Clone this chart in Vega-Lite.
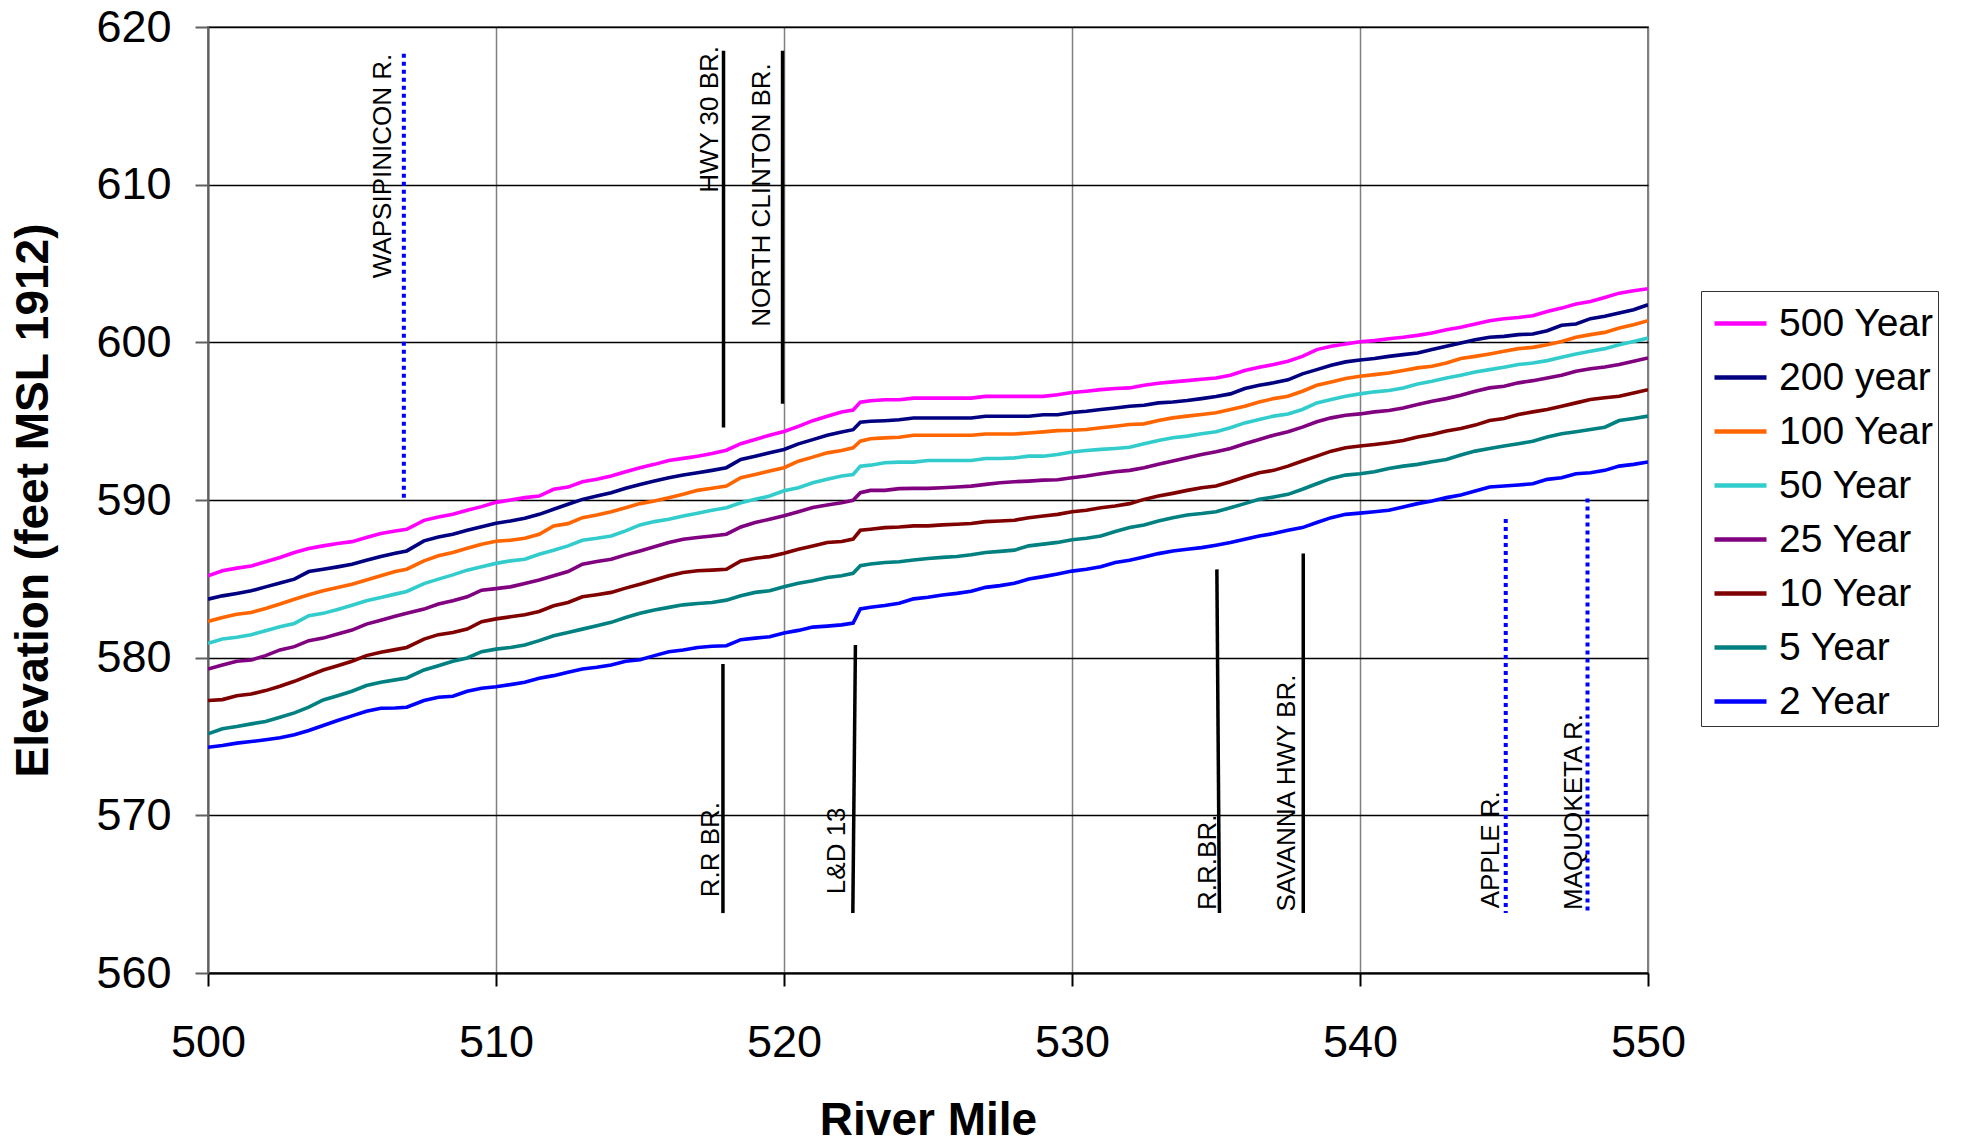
{
  "$schema": "https://vega.github.io/schema/vega-lite/v6.json",
  "width": 1440,
  "height": 946,
  "autosize": {"type": "none"},
  "padding": {"left": 208, "top": 27, "right": 313, "bottom": 170},
  "background": "white",
  "config": {
    "font": "Liberation Sans",
    "view": {"stroke": "#808080", "strokeWidth": 2},
    "axis": {
      "labelFont": "Liberation Sans", "labelFontSize": 45, "labelColor": "#000", "labelFlush": false,
      "titleFont": "Liberation Sans", "titleFontWeight": "bold", "titleFontSize": 46, "titleColor": "#000",
      "tickSize": 13, "tickColor": "#000", "tickWidth": 2,
      "domainColor": "#000", "domainWidth": 2,
      "gridColor": "#000", "gridWidth": 1.3
    }
  },
  "datasets": {
    "profiles": [
      {"mile":500,"500 Year":585.19,"200 year":583.71,"100 Year":582.30,"50 Year":580.91,"25 Year":579.28,"10 Year":577.28,"5 Year":575.17,"2 Year":574.32},
      {"mile":500.5,"500 Year":585.51,"200 year":583.92,"100 Year":582.55,"50 Year":581.18,"25 Year":579.54,"10 Year":577.34,"5 Year":575.49,"2 Year":574.43},
      {"mile":501,"500 Year":585.68,"200 year":584.07,"100 Year":582.76,"50 Year":581.29,"25 Year":579.77,"10 Year":577.59,"5 Year":575.63,"2 Year":574.58},
      {"mile":501.5,"500 Year":585.82,"200 year":584.24,"100 Year":582.87,"50 Year":581.46,"25 Year":579.85,"10 Year":577.70,"5 Year":575.80,"2 Year":574.68},
      {"mile":502,"500 Year":586.08,"200 year":584.49,"100 Year":583.12,"50 Year":581.71,"25 Year":580.13,"10 Year":577.91,"5 Year":575.95,"2 Year":574.79},
      {"mile":502.5,"500 Year":586.35,"200 year":584.73,"100 Year":583.40,"50 Year":581.96,"25 Year":580.49,"10 Year":578.19,"5 Year":576.22,"2 Year":574.92},
      {"mile":503,"500 Year":586.67,"200 year":584.98,"100 Year":583.71,"50 Year":582.17,"25 Year":580.70,"10 Year":578.50,"5 Year":576.50,"2 Year":575.11},
      {"mile":503.5,"500 Year":586.92,"200 year":585.46,"100 Year":583.99,"50 Year":582.66,"25 Year":581.08,"10 Year":578.86,"5 Year":576.86,"2 Year":575.38},
      {"mile":504,"500 Year":587.09,"200 year":585.61,"100 Year":584.24,"50 Year":582.81,"25 Year":581.24,"10 Year":579.22,"5 Year":577.32,"2 Year":575.70},
      {"mile":504.5,"500 Year":587.24,"200 year":585.76,"100 Year":584.45,"50 Year":583.06,"25 Year":581.50,"10 Year":579.49,"5 Year":577.59,"2 Year":576.01},
      {"mile":505,"500 Year":587.36,"200 year":585.93,"100 Year":584.66,"50 Year":583.33,"25 Year":581.75,"10 Year":579.77,"5 Year":577.87,"2 Year":576.31},
      {"mile":505.5,"500 Year":587.62,"200 year":586.18,"100 Year":584.92,"50 Year":583.61,"25 Year":582.13,"10 Year":580.13,"5 Year":578.23,"2 Year":576.60},
      {"mile":506,"500 Year":587.87,"200 year":586.41,"100 Year":585.19,"50 Year":583.82,"25 Year":582.38,"10 Year":580.34,"5 Year":578.44,"2 Year":576.79},
      {"mile":506.5,"500 Year":588.04,"200 year":586.62,"100 Year":585.46,"50 Year":584.03,"25 Year":582.62,"10 Year":580.51,"5 Year":578.59,"2 Year":576.81},
      {"mile":506.9,"500 Year":588.14,"200 year":586.77,"100 Year":585.61,"50 Year":584.20,"25 Year":582.81,"10 Year":580.65,"5 Year":578.71,"2 Year":576.86},
      {"mile":507.5,"500 Year":588.71,"200 year":587.41,"100 Year":586.14,"50 Year":584.70,"25 Year":583.08,"10 Year":581.18,"5 Year":579.22,"2 Year":577.28},
      {"mile":508,"500 Year":588.92,"200 year":587.66,"100 Year":586.46,"50 Year":584.98,"25 Year":583.40,"10 Year":581.46,"5 Year":579.49,"2 Year":577.49},
      {"mile":508.5,"500 Year":589.09,"200 year":587.83,"100 Year":586.67,"50 Year":585.25,"25 Year":583.61,"10 Year":581.60,"5 Year":579.77,"2 Year":577.55},
      {"mile":509,"500 Year":589.35,"200 year":588.08,"100 Year":586.94,"50 Year":585.55,"25 Year":583.86,"10 Year":581.81,"5 Year":579.98,"2 Year":577.87},
      {"mile":509.5,"500 Year":589.58,"200 year":588.31,"100 Year":587.19,"50 Year":585.76,"25 Year":584.28,"10 Year":582.28,"5 Year":580.38,"2 Year":578.06},
      {"mile":510,"500 Year":589.85,"200 year":588.53,"100 Year":587.38,"50 Year":585.98,"25 Year":584.38,"10 Year":582.46,"5 Year":580.54,"2 Year":578.15},
      {"mile":510.5,"500 Year":590.00,"200 year":588.67,"100 Year":587.45,"50 Year":586.14,"25 Year":584.49,"10 Year":582.59,"5 Year":580.65,"2 Year":578.29},
      {"mile":511,"500 Year":590.15,"200 year":588.84,"100 Year":587.57,"50 Year":586.24,"25 Year":584.70,"10 Year":582.72,"5 Year":580.80,"2 Year":578.44},
      {"mile":511.5,"500 Year":590.25,"200 year":589.09,"100 Year":587.83,"50 Year":586.56,"25 Year":584.92,"10 Year":582.93,"5 Year":581.08,"2 Year":578.69},
      {"mile":512,"500 Year":590.68,"200 year":589.41,"100 Year":588.35,"50 Year":586.81,"25 Year":585.19,"10 Year":583.29,"5 Year":581.39,"2 Year":578.86},
      {"mile":512.5,"500 Year":590.82,"200 year":589.73,"100 Year":588.50,"50 Year":587.09,"25 Year":585.46,"10 Year":583.50,"5 Year":581.60,"2 Year":579.07},
      {"mile":513,"500 Year":591.16,"200 year":590.04,"100 Year":588.88,"50 Year":587.45,"25 Year":585.93,"10 Year":583.86,"5 Year":581.81,"2 Year":579.28},
      {"mile":513.5,"500 Year":591.31,"200 year":590.25,"100 Year":589.05,"50 Year":587.57,"25 Year":586.10,"10 Year":583.99,"5 Year":582.03,"2 Year":579.39},
      {"mile":514,"500 Year":591.52,"200 year":590.46,"100 Year":589.26,"50 Year":587.72,"25 Year":586.24,"10 Year":584.14,"5 Year":582.24,"2 Year":579.54},
      {"mile":514.5,"500 Year":591.79,"200 year":590.74,"100 Year":589.51,"50 Year":588.04,"25 Year":586.52,"10 Year":584.41,"5 Year":582.55,"2 Year":579.77},
      {"mile":515,"500 Year":592.05,"200 year":590.99,"100 Year":589.77,"50 Year":588.42,"25 Year":586.77,"10 Year":584.66,"5 Year":582.81,"2 Year":579.87},
      {"mile":515.5,"500 Year":592.26,"200 year":591.20,"100 Year":589.94,"50 Year":588.63,"25 Year":587.03,"10 Year":584.92,"5 Year":583.02,"2 Year":580.13},
      {"mile":516,"500 Year":592.51,"200 year":591.41,"100 Year":590.15,"50 Year":588.78,"25 Year":587.30,"10 Year":585.19,"5 Year":583.19,"2 Year":580.38},
      {"mile":516.5,"500 Year":592.64,"200 year":591.58,"100 Year":590.36,"50 Year":588.99,"25 Year":587.51,"10 Year":585.40,"5 Year":583.35,"2 Year":580.49},
      {"mile":517,"500 Year":592.78,"200 year":591.73,"100 Year":590.61,"50 Year":589.16,"25 Year":587.62,"10 Year":585.51,"5 Year":583.44,"2 Year":580.65},
      {"mile":517.5,"500 Year":592.95,"200 year":591.88,"100 Year":590.74,"50 Year":589.35,"25 Year":587.72,"10 Year":585.55,"5 Year":583.50,"2 Year":580.72},
      {"mile":518,"500 Year":593.16,"200 year":592.05,"100 Year":590.89,"50 Year":589.51,"25 Year":587.83,"10 Year":585.61,"5 Year":583.65,"2 Year":580.76},
      {"mile":518.5,"500 Year":593.57,"200 year":592.57,"100 Year":591.41,"50 Year":589.83,"25 Year":588.29,"10 Year":586.14,"5 Year":583.92,"2 Year":581.14},
      {"mile":519,"500 Year":593.84,"200 year":592.78,"100 Year":591.62,"50 Year":590.04,"25 Year":588.57,"10 Year":586.31,"5 Year":584.14,"2 Year":581.24},
      {"mile":519.5,"500 Year":594.11,"200 year":593.00,"100 Year":591.84,"50 Year":590.25,"25 Year":588.78,"10 Year":586.41,"5 Year":584.24,"2 Year":581.33},
      {"mile":520,"500 Year":594.35,"200 year":593.20,"100 Year":592.05,"50 Year":590.59,"25 Year":589.00,"10 Year":586.62,"5 Year":584.50,"2 Year":581.57},
      {"mile":520.5,"500 Year":594.67,"200 year":593.56,"100 Year":592.46,"50 Year":590.78,"25 Year":589.26,"10 Year":586.88,"5 Year":584.72,"2 Year":581.73},
      {"mile":521,"500 Year":595.03,"200 year":593.83,"100 Year":592.72,"50 Year":591.09,"25 Year":589.52,"10 Year":587.09,"5 Year":584.88,"2 Year":581.94},
      {"mile":521.5,"500 Year":595.31,"200 year":594.11,"100 Year":592.99,"50 Year":591.31,"25 Year":589.68,"10 Year":587.31,"5 Year":585.09,"2 Year":582.00},
      {"mile":522,"500 Year":595.58,"200 year":594.32,"100 Year":593.14,"50 Year":591.52,"25 Year":589.83,"10 Year":587.37,"5 Year":585.20,"2 Year":582.08},
      {"mile":522.4,"500 Year":595.71,"200 year":594.46,"100 Year":593.31,"50 Year":591.62,"25 Year":589.98,"10 Year":587.52,"5 Year":585.35,"2 Year":582.19},
      {"mile":522.65,"500 Year":596.21,"200 year":594.93,"100 Year":593.73,"50 Year":592.15,"25 Year":590.46,"10 Year":588.08,"5 Year":585.83,"2 Year":583.09},
      {"mile":523,"500 Year":596.29,"200 year":594.99,"100 Year":593.89,"50 Year":592.21,"25 Year":590.61,"10 Year":588.15,"5 Year":585.94,"2 Year":583.20},
      {"mile":523.5,"500 Year":596.36,"200 year":595.03,"100 Year":593.94,"50 Year":592.36,"25 Year":590.61,"10 Year":588.25,"5 Year":586.04,"2 Year":583.31},
      {"mile":524,"500 Year":596.36,"200 year":595.09,"100 Year":593.98,"50 Year":592.40,"25 Year":590.72,"10 Year":588.29,"5 Year":586.08,"2 Year":583.45},
      {"mile":524.5,"500 Year":596.46,"200 year":595.20,"100 Year":594.11,"50 Year":592.40,"25 Year":590.74,"10 Year":588.36,"5 Year":586.19,"2 Year":583.73},
      {"mile":525,"500 Year":596.46,"200 year":595.20,"100 Year":594.11,"50 Year":592.51,"25 Year":590.74,"10 Year":588.36,"5 Year":586.29,"2 Year":583.83},
      {"mile":525.5,"500 Year":596.46,"200 year":595.20,"100 Year":594.11,"50 Year":592.51,"25 Year":590.78,"10 Year":588.42,"5 Year":586.36,"2 Year":583.98},
      {"mile":526,"500 Year":596.46,"200 year":595.20,"100 Year":594.11,"50 Year":592.51,"25 Year":590.82,"10 Year":588.46,"5 Year":586.42,"2 Year":584.08},
      {"mile":526.5,"500 Year":596.46,"200 year":595.20,"100 Year":594.11,"50 Year":592.51,"25 Year":590.88,"10 Year":588.51,"5 Year":586.53,"2 Year":584.21},
      {"mile":527,"500 Year":596.57,"200 year":595.31,"100 Year":594.19,"50 Year":592.63,"25 Year":590.99,"10 Year":588.63,"5 Year":586.67,"2 Year":584.46},
      {"mile":527.5,"500 Year":596.57,"200 year":595.31,"100 Year":594.19,"50 Year":592.63,"25 Year":591.09,"10 Year":588.67,"5 Year":586.74,"2 Year":584.57},
      {"mile":528,"500 Year":596.57,"200 year":595.31,"100 Year":594.19,"50 Year":592.67,"25 Year":591.16,"10 Year":588.72,"5 Year":586.82,"2 Year":584.72},
      {"mile":528.5,"500 Year":596.57,"200 year":595.31,"100 Year":594.25,"50 Year":592.78,"25 Year":591.20,"10 Year":588.88,"5 Year":587.09,"2 Year":584.99},
      {"mile":529,"500 Year":596.57,"200 year":595.41,"100 Year":594.32,"50 Year":592.78,"25 Year":591.26,"10 Year":588.99,"5 Year":587.20,"2 Year":585.14},
      {"mile":529.5,"500 Year":596.67,"200 year":595.41,"100 Year":594.40,"50 Year":592.88,"25 Year":591.28,"10 Year":589.09,"5 Year":587.31,"2 Year":585.31},
      {"mile":530,"500 Year":596.82,"200 year":595.55,"100 Year":594.42,"50 Year":593.05,"25 Year":591.41,"10 Year":589.25,"5 Year":587.48,"2 Year":585.49},
      {"mile":530.5,"500 Year":596.90,"200 year":595.63,"100 Year":594.47,"50 Year":593.14,"25 Year":591.52,"10 Year":589.35,"5 Year":587.57,"2 Year":585.61},
      {"mile":531,"500 Year":597.00,"200 year":595.74,"100 Year":594.58,"50 Year":593.21,"25 Year":591.67,"10 Year":589.51,"5 Year":587.72,"2 Year":585.76},
      {"mile":531.5,"500 Year":597.07,"200 year":595.84,"100 Year":594.68,"50 Year":593.27,"25 Year":591.79,"10 Year":589.62,"5 Year":588.00,"2 Year":586.03},
      {"mile":532,"500 Year":597.11,"200 year":595.95,"100 Year":594.79,"50 Year":593.35,"25 Year":591.88,"10 Year":589.77,"5 Year":588.25,"2 Year":586.18},
      {"mile":532.5,"500 Year":597.28,"200 year":596.01,"100 Year":594.83,"50 Year":593.57,"25 Year":592.05,"10 Year":590.04,"5 Year":588.42,"2 Year":586.39},
      {"mile":533,"500 Year":597.41,"200 year":596.16,"100 Year":595.04,"50 Year":593.78,"25 Year":592.26,"10 Year":590.25,"5 Year":588.67,"2 Year":586.60},
      {"mile":533.5,"500 Year":597.49,"200 year":596.22,"100 Year":595.21,"50 Year":593.95,"25 Year":592.47,"10 Year":590.42,"5 Year":588.88,"2 Year":586.77},
      {"mile":534,"500 Year":597.57,"200 year":596.31,"100 Year":595.32,"50 Year":594.05,"25 Year":592.68,"10 Year":590.61,"5 Year":589.05,"2 Year":586.88},
      {"mile":534.5,"500 Year":597.66,"200 year":596.43,"100 Year":595.42,"50 Year":594.20,"25 Year":592.89,"10 Year":590.78,"5 Year":589.14,"2 Year":586.98},
      {"mile":535,"500 Year":597.74,"200 year":596.56,"100 Year":595.53,"50 Year":594.33,"25 Year":593.06,"10 Year":590.89,"5 Year":589.26,"2 Year":587.13},
      {"mile":535.5,"500 Year":597.91,"200 year":596.73,"100 Year":595.74,"50 Year":594.58,"25 Year":593.27,"10 Year":591.16,"5 Year":589.51,"2 Year":587.30},
      {"mile":536,"500 Year":598.21,"200 year":597.07,"100 Year":595.95,"50 Year":594.89,"25 Year":593.57,"10 Year":591.46,"5 Year":589.77,"2 Year":587.51},
      {"mile":536.5,"500 Year":598.42,"200 year":597.28,"100 Year":596.22,"50 Year":595.11,"25 Year":593.84,"10 Year":591.73,"5 Year":590.04,"2 Year":587.72},
      {"mile":537,"500 Year":598.59,"200 year":597.43,"100 Year":596.43,"50 Year":595.32,"25 Year":594.11,"10 Year":591.88,"5 Year":590.19,"2 Year":587.87},
      {"mile":537.5,"500 Year":598.80,"200 year":597.62,"100 Year":596.58,"50 Year":595.46,"25 Year":594.33,"10 Year":592.15,"5 Year":590.36,"2 Year":588.08},
      {"mile":538,"500 Year":599.11,"200 year":598.00,"100 Year":596.90,"50 Year":595.74,"25 Year":594.62,"10 Year":592.47,"5 Year":590.68,"2 Year":588.25},
      {"mile":538.5,"500 Year":599.54,"200 year":598.27,"100 Year":597.28,"50 Year":596.16,"25 Year":594.96,"10 Year":592.78,"5 Year":591.03,"2 Year":588.57},
      {"mile":539,"500 Year":599.75,"200 year":598.54,"100 Year":597.49,"50 Year":596.37,"25 Year":595.21,"10 Year":593.10,"5 Year":591.37,"2 Year":588.88},
      {"mile":539.5,"500 Year":599.89,"200 year":598.76,"100 Year":597.70,"50 Year":596.58,"25 Year":595.38,"10 Year":593.31,"5 Year":591.58,"2 Year":589.09},
      {"mile":540,"500 Year":600.04,"200 year":598.88,"100 Year":597.85,"50 Year":596.73,"25 Year":595.46,"10 Year":593.42,"5 Year":591.67,"2 Year":589.17},
      {"mile":540.5,"500 Year":600.11,"200 year":598.97,"100 Year":597.95,"50 Year":596.86,"25 Year":595.59,"10 Year":593.52,"5 Year":591.79,"2 Year":589.26},
      {"mile":541,"500 Year":600.23,"200 year":599.11,"100 Year":598.06,"50 Year":596.94,"25 Year":595.68,"10 Year":593.63,"5 Year":592.00,"2 Year":589.35},
      {"mile":541.5,"500 Year":600.32,"200 year":599.22,"100 Year":598.21,"50 Year":597.11,"25 Year":595.84,"10 Year":593.78,"5 Year":592.15,"2 Year":589.56},
      {"mile":542,"500 Year":600.44,"200 year":599.32,"100 Year":598.38,"50 Year":597.36,"25 Year":596.05,"10 Year":593.99,"5 Year":592.26,"2 Year":589.77},
      {"mile":542.5,"500 Year":600.59,"200 year":599.54,"100 Year":598.48,"50 Year":597.53,"25 Year":596.27,"10 Year":594.16,"5 Year":592.43,"2 Year":589.94},
      {"mile":543,"500 Year":600.80,"200 year":599.75,"100 Year":598.69,"50 Year":597.74,"25 Year":596.43,"10 Year":594.37,"5 Year":592.57,"2 Year":590.15},
      {"mile":543.5,"500 Year":600.95,"200 year":599.96,"100 Year":598.97,"50 Year":597.91,"25 Year":596.65,"10 Year":594.54,"5 Year":592.85,"2 Year":590.32},
      {"mile":544,"500 Year":601.16,"200 year":600.17,"100 Year":599.11,"50 Year":598.12,"25 Year":596.90,"10 Year":594.75,"5 Year":593.10,"2 Year":590.57},
      {"mile":544.5,"500 Year":601.37,"200 year":600.32,"100 Year":599.26,"50 Year":598.27,"25 Year":597.11,"10 Year":595.04,"5 Year":593.27,"2 Year":590.82},
      {"mile":545,"500 Year":601.50,"200 year":600.38,"100 Year":599.43,"50 Year":598.42,"25 Year":597.22,"10 Year":595.17,"5 Year":593.42,"2 Year":590.89},
      {"mile":545.5,"500 Year":601.58,"200 year":600.49,"100 Year":599.60,"50 Year":598.59,"25 Year":597.43,"10 Year":595.42,"5 Year":593.57,"2 Year":590.95},
      {"mile":546,"500 Year":601.69,"200 year":600.53,"100 Year":599.68,"50 Year":598.69,"25 Year":597.57,"10 Year":595.59,"5 Year":593.73,"2 Year":591.03},
      {"mile":546.5,"500 Year":601.96,"200 year":600.74,"100 Year":599.85,"50 Year":598.84,"25 Year":597.74,"10 Year":595.74,"5 Year":593.99,"2 Year":591.31},
      {"mile":547,"500 Year":602.17,"200 year":601.08,"100 Year":600.06,"50 Year":599.05,"25 Year":597.91,"10 Year":595.95,"5 Year":594.20,"2 Year":591.41},
      {"mile":547.5,"500 Year":602.43,"200 year":601.16,"100 Year":600.32,"50 Year":599.26,"25 Year":598.16,"10 Year":596.16,"5 Year":594.33,"2 Year":591.67},
      {"mile":548,"500 Year":602.59,"200 year":601.50,"100 Year":600.49,"50 Year":599.43,"25 Year":598.33,"10 Year":596.37,"5 Year":594.47,"2 Year":591.73},
      {"mile":548.5,"500 Year":602.85,"200 year":601.65,"100 Year":600.63,"50 Year":599.60,"25 Year":598.44,"10 Year":596.48,"5 Year":594.62,"2 Year":591.88},
      {"mile":549,"500 Year":603.12,"200 year":601.86,"100 Year":600.91,"50 Year":599.85,"25 Year":598.59,"10 Year":596.58,"5 Year":595.04,"2 Year":592.15},
      {"mile":549.5,"500 Year":603.27,"200 year":602.07,"100 Year":601.12,"50 Year":600.06,"25 Year":598.80,"10 Year":596.79,"5 Year":595.17,"2 Year":592.26},
      {"mile":550,"500 Year":603.40,"200 year":602.38,"100 Year":601.37,"50 Year":600.27,"25 Year":599.01,"10 Year":597.00,"5 Year":595.32,"2 Year":592.41}
    ],
    "features": [
      {"label":"WAPSIPINICON R.","kind":"river","pos":"top","mile_top":506.8,"mile_bot":506.8,"top":618.3,"bottom":590.15,"label_mile":506.34,"label_elev":618.3},
      {"label":"HWY 30 BR.","kind":"bridge","pos":"top","mile_top":517.9,"mile_bot":517.9,"top":618.5,"bottom":594.6,"label_mile":517.71,"label_elev":618.8},
      {"label":"NORTH CLINTON BR.","kind":"bridge","pos":"top","mile_top":519.95,"mile_bot":519.95,"top":618.5,"bottom":596.1,"label_mile":519.52,"label_elev":617.7},
      {"label":"R.R BR.","kind":"bridge","pos":"bottom","mile_top":517.88,"mile_bot":517.88,"top":579.6,"bottom":563.8,"label_mile":517.74,"label_elev":564.8},
      {"label":"L&D 13","kind":"bridge","pos":"bottom","mile_top":522.48,"mile_bot":522.39,"top":580.8,"bottom":563.8,"label_mile":522.12,"label_elev":565.0},
      {"label":"R.R.BR.","kind":"bridge","pos":"bottom","mile_top":535.03,"mile_bot":535.12,"top":585.6,"bottom":563.8,"label_mile":535.01,"label_elev":564.0},
      {"label":"SAVANNA HWY BR.","kind":"bridge","pos":"bottom","mile_top":538.03,"mile_bot":538.03,"top":586.6,"bottom":563.8,"label_mile":537.74,"label_elev":563.9},
      {"label":"APPLE R.","kind":"river","pos":"bottom","mile_top":545.06,"mile_bot":545.06,"top":588.8,"bottom":563.8,"label_mile":544.82,"label_elev":564.1},
      {"label":"MAQUOKETA R.","kind":"river","pos":"bottom","mile_top":547.9,"mile_bot":547.9,"top":590.1,"bottom":563.8,"label_mile":547.7,"label_elev":564.0}
    ]
  },
  "layer": [
    {
      "data": {"name": "profiles"},
      "transform": [
        {"fold": ["500 Year","200 year","100 Year","50 Year","25 Year","10 Year","5 Year","2 Year"], "as": ["series","elev"]}
      ],
      "mark": {"type": "line", "strokeWidth": 3.6, "clip": true},
      "encoding": {
        "x": {"field": "mile", "type": "quantitative", "title": "River Mile",
              "scale": {"domain": [500, 550], "nice": false, "zero": false},
              "axis": {"values": [500,510,520,530,540,550], "format": "d",
                       "labelPadding": 34, "titlePadding": 33, "gridColor": "#808080", "gridWidth": 1.5}},
        "y": {"field": "elev", "type": "quantitative", "title": "Elevation (feet MSL 1912)",
              "scale": {"domain": [560, 620], "nice": false, "zero": false},
              "axis": {"values": [560,570,580,590,600,610,620], "format": "d",
                       "labelPadding": 24, "titlePadding": 38, "domainColor": "#606060", "tickColor": "#606060"}},
        "color": {"field": "series", "type": "nominal",
                  "scale": {"domain": ["500 Year","200 year","100 Year","50 Year","25 Year","10 Year","5 Year","2 Year"],
                            "range": ["#FF00FF","#000080","#FF6600","#33CCCC","#800080","#800000","#008080","#0000FF"]},
                  "legend": {"title": null, "orient": "none", "legendX": 1493, "legendY": 264,
                             "symbolType": "stroke", "symbolSize": 2704, "symbolStrokeWidth": 4.5,
                             "labelFont": "Liberation Sans", "labelFontSize": 39, "labelColor": "#000",
                             "strokeColor": "#333333", "fillColor": "white", "padding": 4,
                             "symbolOffset": 7, "labelOffset": 10, "rowPadding": 5.0}}
      }
    },
    {
      "data": {"name": "features"},
      "transform": [{"filter": "datum.kind === 'bridge'"}],
      "mark": {"type": "rule", "color": "#000000", "strokeWidth": 3.5},
      "encoding": {
        "x": {"field": "mile_top", "type": "quantitative", "title": "River Mile"},
        "x2": {"field": "mile_bot"},
        "y": {"field": "top", "type": "quantitative", "title": "Elevation (feet MSL 1912)"},
        "y2": {"field": "bottom"}
      }
    },
    {
      "data": {"name": "features"},
      "transform": [{"filter": "datum.kind === 'river'"}],
      "mark": {"type": "rule", "color": "#0000FF", "strokeWidth": 4, "strokeDash": [4, 4]},
      "encoding": {
        "x": {"field": "mile_top", "type": "quantitative", "title": "River Mile"},
        "x2": {"field": "mile_bot"},
        "y": {"field": "top", "type": "quantitative", "title": "Elevation (feet MSL 1912)"},
        "y2": {"field": "bottom"}
      }
    },
    {
      "data": {"name": "features"},
      "transform": [{"filter": "datum.pos === 'top'"}],
      "mark": {"type": "text", "angle": 270, "align": "right", "baseline": "alphabetic",
               "font": "Liberation Sans", "fontSize": 26, "color": "#000000"},
      "encoding": {
        "x": {"field": "label_mile", "type": "quantitative", "title": "River Mile"},
        "y": {"field": "label_elev", "type": "quantitative", "title": "Elevation (feet MSL 1912)"},
        "text": {"field": "label"}
      }
    },
    {
      "data": {"name": "features"},
      "transform": [{"filter": "datum.pos === 'bottom'"}],
      "mark": {"type": "text", "angle": 270, "align": "left", "baseline": "alphabetic",
               "font": "Liberation Sans", "fontSize": 26, "color": "#000000"},
      "encoding": {
        "x": {"field": "label_mile", "type": "quantitative", "title": "River Mile"},
        "y": {"field": "label_elev", "type": "quantitative", "title": "Elevation (feet MSL 1912)"},
        "text": {"field": "label"}
      }
    }
  ]
}
